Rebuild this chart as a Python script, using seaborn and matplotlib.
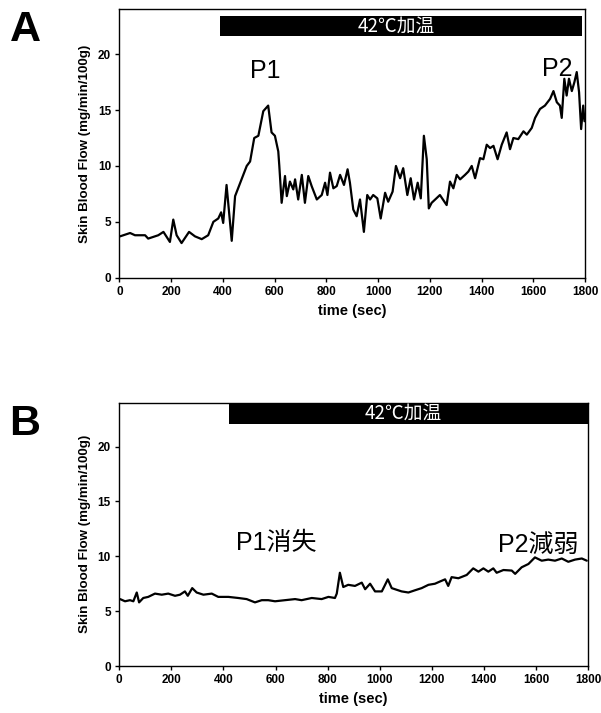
import numpy as np
import pandas as pd
import matplotlib
matplotlib.use("Agg")
import matplotlib.pyplot as plt
import seaborn as sns

# ---- data ----
time_a = [2, 41, 60, 99, 111, 150, 170, 195, 208, 221, 240, 269, 292, 318, 343, 363, 382, 393, 401, 414,
          434, 447, 472, 492, 505, 521, 537, 556, 575, 588, 601, 614, 618, 627, 640, 647, 659, 672, 679, 691,
          705, 717, 730, 743, 763, 782, 795, 804, 814, 827, 840, 853, 868, 882, 891, 904, 917, 930, 945, 958,
          969, 981, 997, 1010, 1027, 1039, 1056, 1069, 1085, 1097, 1113, 1126, 1139, 1153, 1165, 1177, 1188,
          1196, 1207, 1239, 1265, 1278, 1291, 1304, 1317, 1336, 1349, 1362, 1375, 1394, 1407, 1420, 1433,
          1446, 1462, 1478, 1497, 1510, 1523, 1542, 1562, 1575, 1594, 1607, 1626, 1645, 1665, 1678, 1691,
          1703, 1710, 1720, 1729, 1738, 1749, 1759, 1768, 1777, 1785, 1793, 1798]
flow_a = [3.7, 4.0, 3.8, 3.8, 3.5, 3.8, 4.1, 3.2, 5.2, 3.8, 3.1, 4.1, 3.7, 3.45, 3.8, 5.0, 5.3, 5.85, 4.9, 8.3,
          3.3, 7.3, 8.8, 10.0, 10.4, 12.5, 12.7, 14.9, 15.4, 13.0, 12.7, 11.3, 10.0, 6.7, 9.1, 7.3, 8.6, 7.9, 8.8, 7.0,
          9.2, 6.7, 9.1, 8.2, 7.0, 7.4, 8.5, 7.4, 9.4, 8.0, 8.2, 9.2, 8.3, 9.7, 8.5, 6.1, 5.5, 7.0, 4.1, 7.4,
          7.0, 7.4, 7.1, 5.3, 7.6, 6.8, 7.7, 10.0, 8.9, 9.8, 7.4, 8.9, 7.0, 8.5, 7.1, 12.7, 10.6,
          6.2, 6.7, 7.4, 6.5, 8.6, 8.0, 9.2, 8.8, 9.2, 9.5, 10.0, 8.9, 10.7, 10.6, 11.9, 11.6,
          11.8, 10.6, 11.9, 13.0, 11.5, 12.5, 12.4, 13.1, 12.8, 13.4, 14.3, 15.1, 15.4, 16.0, 16.7, 15.7,
          15.4, 14.3, 17.8, 16.3, 17.8, 16.7, 17.5, 18.4, 16.6, 13.3, 15.4, 14.0]

time_b = [3, 22, 41, 54, 67, 76, 92, 111, 137, 163, 188, 214, 233, 252, 263, 280, 297, 323, 355, 380,
          419, 457, 489, 521, 547, 572, 598, 636, 675, 700, 739, 777, 803, 828, 835, 847, 860, 879, 905, 931,
          944, 963, 982, 1008, 1031, 1046, 1084, 1110, 1135, 1161, 1187, 1212, 1231, 1251, 1263, 1276, 1302,
          1334, 1359, 1379, 1398, 1417, 1436, 1449, 1475, 1507, 1520, 1545, 1571, 1596, 1622, 1647, 1673,
          1699, 1724, 1750, 1776, 1795]
flow_b = [6.1, 5.9, 6.0, 5.9, 6.7, 5.8, 6.2, 6.3, 6.6, 6.5, 6.6, 6.4, 6.5, 6.8, 6.4, 7.1, 6.7, 6.5, 6.6, 6.3,
          6.3, 6.2, 6.1, 5.8, 6.0, 6.0, 5.9, 6.0, 6.1, 6.0, 6.2, 6.1, 6.3, 6.2, 6.6, 8.5, 7.2, 7.4, 7.3, 7.6,
          7.0, 7.5, 6.8, 6.8, 7.9, 7.1, 6.8, 6.7, 6.9, 7.1, 7.4, 7.5, 7.7, 7.9, 7.3, 8.1, 8.0,
          8.3, 8.9, 8.6, 8.9, 8.6, 8.9, 8.5, 8.75, 8.7, 8.4, 9.0, 9.3, 9.9, 9.6, 9.7, 9.6,
          9.8, 9.5, 9.7, 9.8, 9.6]

heat_start_a, heat_end_a = 390, 1787
heat_start_b, heat_end_b = 420, 1800
heat_label = "42℃加温"
x_ticks = [0, 200, 400, 600, 800, 1000, 1200, 1400, 1600, 1800]
y_ticks = [0, 5, 10, 15, 20]
ylabel = "Skin Blood Flow (mg/min/100g)"
xlabel = "time (sec)"

sns.set_style("ticks")
plt.rcParams['font.family'] = ['Liberation Sans', 'Noto Sans CJK JP', 'DejaVu Sans']
plt.rcParams['text.color'] = 'black'
plt.rcParams['axes.labelcolor'] = 'black'
plt.rcParams['xtick.color'] = 'black'
plt.rcParams['ytick.color'] = 'black'
mixed = ['Liberation Sans', 'Noto Sans CJK JP', 'DejaVu Sans']
cjk = ['Noto Sans CJK JP', 'DejaVu Sans']

fig = plt.figure(figsize=(6.01, 7.13), dpi=100)
ax_a = fig.add_axes([0.1988, 0.6105, 0.7746, 0.3762])
ax_b = fig.add_axes([0.1985, 0.0659, 0.7800, 0.3693])

df_a = pd.DataFrame({"t": time_a, "f": flow_a})
df_b = pd.DataFrame({"t": time_b, "f": flow_b})


def style(ax, df, hs, he, bar_lo, bar_hi):
    sns.lineplot(data=df, x="t", y="f", ax=ax, color="black", lw=1.6, estimator=None, sort=False)
    ax.set_xlim(0, 1800)
    ax.set_ylim(0, 24)
    ax.set_xticks(x_ticks)
    ax.set_yticks(y_ticks)
    ax.set_xticklabels([str(v) for v in x_ticks], fontsize=8.5, fontweight="bold")
    ax.set_yticklabels([str(v) for v in y_ticks], fontsize=8.5, fontweight="bold")
    ax.set_xlabel(xlabel, fontsize=10.5, fontweight="bold", labelpad=4)
    ax.set_ylabel(ylabel, fontsize=9.6, fontweight="bold", labelpad=5)
    ax.tick_params(axis="both", direction="out", length=3, width=1, pad=3, colors="black")
    for s in ax.spines.values():
        s.set_linewidth(1.0)
        s.set_color("black")
    ax.fill_between([hs, he], bar_lo, bar_hi, color="black", lw=0)
    ax.text((hs + he) / 2 - 20, (bar_lo + bar_hi) / 2, heat_label, color="white", ha="center",
            va="center", fontsize=13.5, family=cjk)


style(ax_a, df_a, heat_start_a, heat_end_a, 21.6, 23.45)
style(ax_b, df_b, heat_start_b, heat_end_b, 22.1, 24.0)

ax_a.text(563, 18.5, "P1", fontsize=18, ha="center", va="center", family=mixed, color="black")
ax_a.text(1692, 18.7, "P2", fontsize=18, ha="center", va="center", family=mixed, color="black")
ax_b.text(602, 11.2, "P1消失", fontsize=18, ha="center", va="center", family=mixed, color="black")
ax_b.text(1607, 11.0, "P2減弱", fontsize=18, ha="center", va="center", family=mixed, color="black")

fig.text(25 / 601, 1 - 30 / 713, "A", fontsize=31, fontweight="bold", ha="center", va="center", color="black")
fig.text(25 / 601, 1 - 424 / 713, "B", fontsize=31, fontweight="bold", ha="center", va="center", color="black")

fig.savefig("out.png", dpi=100)
